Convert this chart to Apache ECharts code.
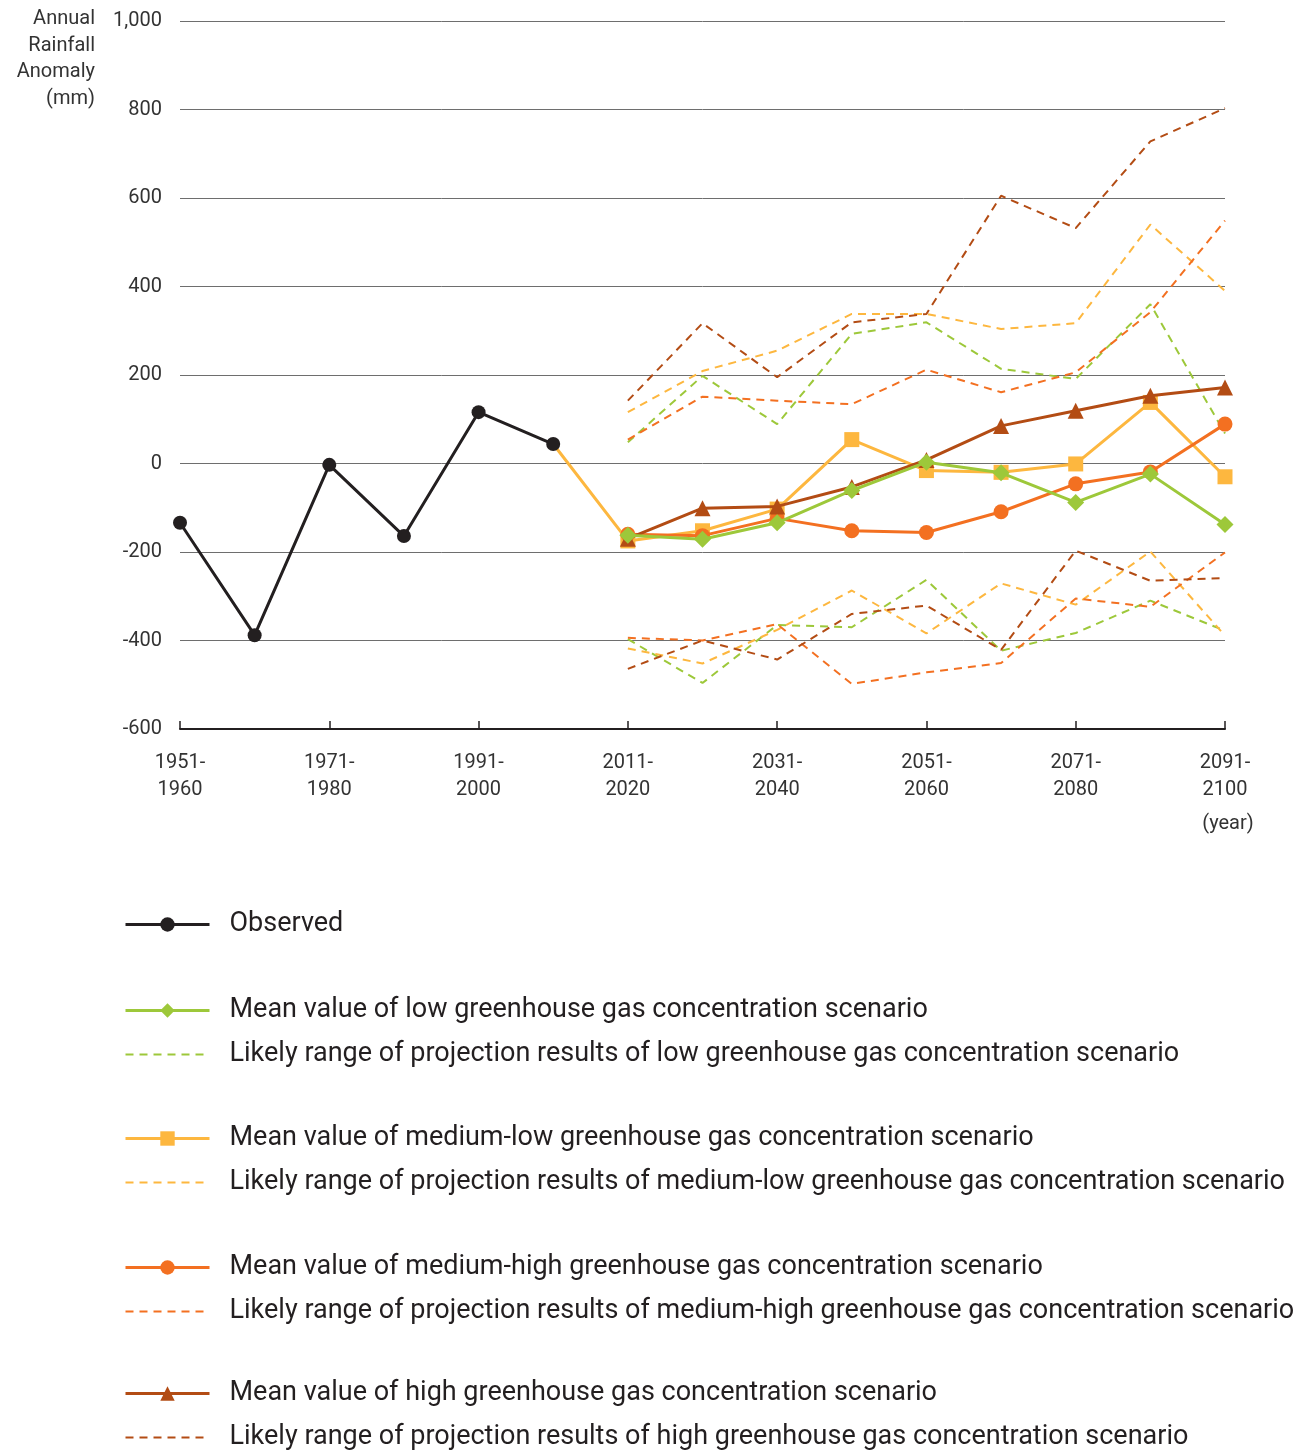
<!DOCTYPE html>
<html>
<head>
<meta charset="utf-8">
<script src="https://cdn.jsdelivr.net/npm/echarts@6/dist/echarts.min.js"></script>
<style>
  html, body { margin: 0; padding: 0; background: #fff; }
  #chart { width: 1308px; height: 1450px; }
</style>
</head>
<body>
<div id="chart"></div>
<script>
var decades = ['1951-1960', '1961-1970', '1971-1980', '1981-1990', '1991-2000', '2001-2010', '2011-2020',
  '2021-2030', '2031-2040', '2041-2050', '2051-2060', '2061-2070', '2071-2080', '2081-2090', '2091-2100'];

// observed 1951-2010
var observed = [-134, -388, -3, -164, 116, 44];

// projections 2011-2100
var lowMean = [-162, -171, -134, -61, 3, -21, -88, -24, -138];
var lowUpper = [48, 198, 89, 293, 319, 214, 191, 360, 68];
var lowLower = [-397, -496, -365, -370, -263, -423, -383, -310, -378];

var medLowMean = [-175, -152, -103, 54, -16, -20, -1, 138, -30];
var medLowUpper = [116, 209, 255, 338, 338, 304, 317, 540, 390];
var medLowLower = [-418, -452, -376, -287, -384, -271, -319, -199, -389];

var medHighMean = [-160, -163, -124, -152, -156, -109, -46, -19, 89];
var medHighUpper = [54, 151, 142, 134, 212, 161, 206, 342, 549];
var medHighLower = [-394, -400, -363, -498, -472, -451, -305, -324, -201];

var highMean = [-170, -101, -97, -53, 8, 85, 119, 153, 172];
var highUpper = [142, 317, 195, 319, 338, 605, 532, 728, 803];
var highLower = [-464, -400, -443, -340, -321, -421, -197, -265, -259];

var names = {
  obs: 'Observed',
  lowM: 'Mean value of low greenhouse gas concentration scenario',
  lowR: 'Likely range of projection results of low greenhouse gas concentration scenario',
  mlM: 'Mean value of medium-low greenhouse gas concentration scenario',
  mlR: 'Likely range of projection results of medium-low greenhouse gas concentration scenario',
  mhM: 'Mean value of medium-high greenhouse gas concentration scenario',
  mhR: 'Likely range of projection results of medium-high greenhouse gas concentration scenario',
  hM: 'Mean value of high greenhouse gas concentration scenario',
  hR: 'Likely range of projection results of high greenhouse gas concentration scenario'
};

var cGreen = '#9dc83a', cYellow = '#fdb73f', cOrange = '#f37021', cBrown = '#b34c14', cBlack = '#231f20';
var FONT = 'Roboto';

// pad projection arrays so they start at 2011-2020
function proj(arr) {
  var out = [];
  for (var i = 0; i < observed.length; i++) out.push(null);
  return out.concat(arr);
}

function meanSeries(name, data, color, symbol, size, z) {
  return {
    name: name, type: 'line', data: data, z: z,
    symbol: symbol, symbolSize: size, showAllSymbol: true,
    lineStyle: { color: color, width: 3 },
    itemStyle: { color: color },
    emphasis: { disabled: true },
    animation: false
  };
}

function rangeSeries(name, data, color) {
  return {
    name: name, type: 'line', data: proj(data), z: 1,
    symbol: 'none', showSymbol: false,
    lineStyle: { color: color, width: 2, type: [8, 6] },
    itemStyle: { color: color },
    emphasis: { disabled: true },
    animation: false
  };
}

// the medium-low mean joins on to the last observed point
var medLowData = proj(medLowMean);
medLowData[observed.length - 1] = { value: observed[observed.length - 1], symbol: 'none' };

var legendText = { fontSize: 27, color: cBlack, fontFamily: FONT, padding: [0, 0, 0, 15], lineHeight: 26 };
function withSymbol(name) {
  return { name: name, lineStyle: { width: 3 } };
}
function lineOnly(name) {
  return { name: name, lineStyle: { width: 2 }, itemStyle: { color: 'rgba(0,0,0,0)', borderWidth: 0, opacity: 0 } };
}
function legendBlock(top, data) {
  return {
    orient: 'vertical', left: 124, top: top, height: 80, padding: 0,
    itemWidth: 84, itemHeight: 18, itemGap: 17,
    selectedMode: false, data: data, textStyle: legendText
  };
}

var chart = echarts.init(document.getElementById('chart'), null, { renderer: 'canvas' });
chart.setOption({
  backgroundColor: '#fff',
  animation: false,
  textStyle: { fontFamily: FONT },
  grid: { left: 180, right: 83, top: 21, bottom: 721, outerBoundsMode: 'none' },
  legend: [
    legendBlock(911, [withSymbol(names.obs)]),
    legendBlock(997, [withSymbol(names.lowM), lineOnly(names.lowR)]),
    legendBlock(1125, [withSymbol(names.mlM), lineOnly(names.mlR)]),
    legendBlock(1254, [withSymbol(names.mhM), lineOnly(names.mhR)]),
    legendBlock(1380, [withSymbol(names.hM), lineOnly(names.hR)])
  ],
  graphic: [
    {
      type: 'text', x: 95, y: 6,
      style: {
        text: 'Annual\nRainfall\nAnomaly\n(mm)', align: 'right', textAlign: 'right', verticalAlign: 'top',
        lineHeight: 26.5, fontSize: 20, fontFamily: FONT, fill: '#333'
      }
    },
    {
      type: 'text', x: 1228, y: 824,
      style: {
        text: '(year)', align: 'center', textAlign: 'center', verticalAlign: 'middle',
        fontSize: 20, fontFamily: FONT, fill: '#333'
      }
    }
  ],
  xAxis: {
    type: 'category', data: decades, boundaryGap: false,
    axisLine: { onZero: false, lineStyle: { color: cBlack, width: 2 } },
    axisTick: { inside: true, length: 8, interval: 1, lineStyle: { color: cBlack, width: 1.5 } },
    axisLabel: {
      interval: 1, margin: 20, fontSize: 20, lineHeight: 27, color: '#333', fontFamily: FONT,
      formatter: function (v) { return v.replace('-', '-\n'); }
    }
  },
  yAxis: {
    type: 'value', min: -600, max: 1000, interval: 200,
    axisLine: { show: false }, axisTick: { show: false },
    splitLine: { lineStyle: { color: '#6e6e6e', width: 1 } },
    axisLabel: {
      margin: 18, fontSize: 20, color: '#333', fontFamily: FONT,
      formatter: function (v) { return v.toLocaleString('en-US'); }
    }
  },
  series: [
    rangeSeries(names.lowR, lowUpper, cGreen),
    rangeSeries(names.lowR, lowLower, cGreen),
    rangeSeries(names.mlR, medLowUpper, cYellow),
    rangeSeries(names.mlR, medLowLower, cYellow),
    rangeSeries(names.mhR, medHighUpper, cOrange),
    rangeSeries(names.mhR, medHighLower, cOrange),
    rangeSeries(names.hR, highUpper, cBrown),
    rangeSeries(names.hR, highLower, cBrown),
    meanSeries(names.mlM, medLowData, cYellow, 'rect', 15, 3),
    meanSeries(names.mhM, proj(medHighMean), cOrange, 'circle', 15, 4),
    meanSeries(names.hM, proj(highMean), cBrown, 'triangle', 16, 5),
    meanSeries(names.lowM, proj(lowMean), cGreen, 'diamond', 17, 6),
    meanSeries(names.obs, observed, cBlack, 'circle', 14, 7)
  ]
});
</script>
</body>
</html>
